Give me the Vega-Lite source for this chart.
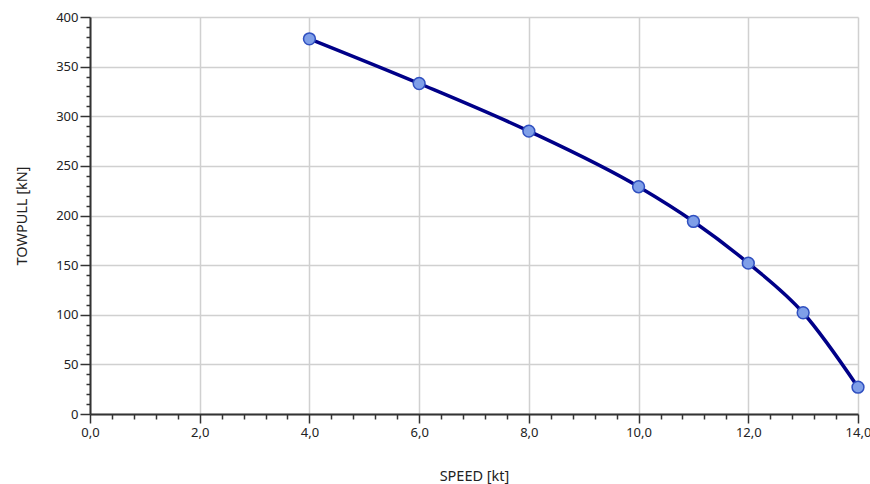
{
  "$schema": "https://vega.github.io/schema/vega-lite/v6.json",
  "width": 768,
  "height": 397,
  "autosize": {"type": "none"},
  "padding": {"left": 90, "top": 17, "right": 13, "bottom": 70},
  "background": "white",
  "config": {
    "view": {"stroke": null},
    "font": "Noto Sans",
    "axis": {"labelFont": "Noto Sans", "titleFont": "Noto Sans", "labelFontSize": 13, "titleFontSize": 14.5, "titleFontWeight": "normal", "labelColor": "#222", "titleColor": "#222"}
  },
  "data": {"values": [
    {"speed": 4, "towpull": 378},
    {"speed": 6, "towpull": 333},
    {"speed": 8, "towpull": 285},
    {"speed": 10, "towpull": 229},
    {"speed": 11, "towpull": 194},
    {"speed": 12, "towpull": 152},
    {"speed": 13, "towpull": 102},
    {"speed": 14, "towpull": 27}
  ]},
  "layer": [
    {
      "mark": {"type": "point", "opacity": 0},
      "encoding": {
        "x": {"field": "speed", "type": "quantitative", "scale": {"domain": [0, 14], "nice": false, "zero": true},
          "axis": {"orient": "bottom", "values": [0.4,0.8,1.2,1.6,2.4,2.8,3.2,3.6,4.4,4.8,5.2,5.6,6.4,6.8,7.2,7.6,8.4,8.8,9.2,9.6,10.4,10.8,11.2,11.6,12.4,12.8,13.2,13.6], "labels": false, "domain": false, "grid": false, "title": null, "tickSize": 5, "tickColor": "#333", "tickWidth": 1.5}},
        "y": {"field": "towpull", "type": "quantitative", "scale": {"domain": [0, 400], "nice": false},
          "axis": {"orient": "left", "values": [10,20,30,40,60,70,80,90,110,120,130,140,160,170,180,190,210,220,230,240,260,270,280,290,310,320,330,340,360,370,380,390], "labels": false, "domain": false, "grid": false, "title": null, "tickSize": 4, "tickColor": "#333", "tickWidth": 1.5}}
      }
    },
    {
      "mark": {"type": "line", "interpolate": "monotone", "color": "#000088", "strokeWidth": 3.5},
      "encoding": {
        "x": {"field": "speed", "type": "quantitative",
          "axis": {"orient": "bottom", "values": [0,2,4,6,8,10,12,14], "labelExpr": "replace(format(datum.value, '.1f'), '.', ',')", "title": "SPEED [kt]", "titlePadding": 30, "tickSize": 9, "tickColor": "#333", "tickWidth": 1.5, "domainColor": "#333", "domainWidth": 2, "grid": true, "gridColor": "#d0d0d0", "gridWidth": 1.5, "labelPadding": 3, "labelFlush": false}},
        "y": {"field": "towpull", "type": "quantitative",
          "axis": {"orient": "left", "values": [0,50,100,150,200,250,300,350,400], "title": "TOWPULL [kN]", "titlePadding": 26, "tickSize": 10, "tickColor": "#333", "tickWidth": 1.5, "domainColor": "#333", "domainWidth": 2, "grid": true, "gridColor": "#d0d0d0", "gridWidth": 1.5, "labelPadding": 2, "labelFlush": false}}
      }
    },
    {
      "mark": {"type": "point", "filled": true, "fill": "#7f9fe8", "stroke": "#3050c0", "strokeWidth": 1.5, "size": 140, "opacity": 1},
      "encoding": {
        "x": {"field": "speed", "type": "quantitative", "axis": null},
        "y": {"field": "towpull", "type": "quantitative", "axis": null}
      }
    }
  ],
  "resolve": {"axis": {"x": "independent", "y": "independent"}}
}
